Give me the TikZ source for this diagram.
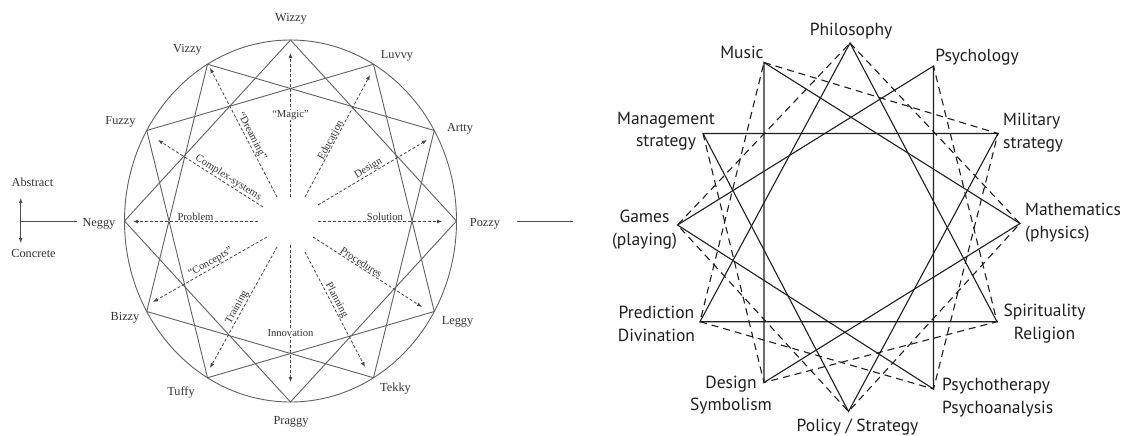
\documentclass[tikz,border=0pt]{standalone}
\usepackage{fontspec}
\setmainfont{Liberation Serif}
\newfontfamily\fieldfont{PT Sans}
\usetikzlibrary{arrows.meta}
\begin{document}
\begin{tikzpicture}[x=1pt,y=-1pt,
  ring/.style={draw=black!62, line width=0.9pt},
  starline/.style={draw=black!62, line width=0.9pt},
  ray/.style={draw=black!72, line width=0.8pt, dash pattern=on 3pt off 2pt,
    -{Latex[length=5pt,width=4pt]}},
  raylabel/.style={font=\fontsize{10.6}{12}\selectfont, text=black!80,
    inner sep=0.6pt, sloped, above},
  flatlabel/.style={font=\fontsize{10.6}{12}\selectfont, text=black!80,
    inner sep=0.6pt, fill=white},
  vname/.style={font=\fontsize{12.3}{14}\selectfont, text=black!80,
    inner sep=0pt, anchor=base},
  axisline/.style={draw=black!70, line width=0.9pt},
  solidedge/.style={draw=black!88, line width=1.1pt},
  dashedge/.style={draw=black!88, line width=1.1pt, dash pattern=on 7pt off 5pt},
  field/.style={font=\fieldfont\fontsize{17.5}{22.7}\selectfont,
    inner sep=0pt, text=black!88},
]
\useasboundingbox (0,0) rectangle (1127,436);
\fill[white] (0,0) rectangle (1127,436);

% ---------------- left: the twelve-type wheel ----------------
\begin{scope}[shift={(290.5,221)}]
  \coordinate (hub) at (0,0);
  \foreach \n/\a in {wizzy/90, luvvy/60, artty/30, pozzy/0, leggy/-30,
      tekky/-60, praggy/-90, tuffy/-120, bizzy/-150, neggy/180,
      fuzzy/150, vizzy/120}
    \coordinate (\n) at (\a:166pt and 181pt);
  \draw[ring] (hub) ellipse [x radius=166pt, y radius=181pt];
\end{scope}

% three inscribed squares
\draw[starline] (wizzy) -- (pozzy) -- (praggy) -- (neggy) -- cycle;
\draw[starline] (luvvy) -- (leggy) -- (tuffy) -- (fuzzy) -- cycle;
\draw[starline] (artty) -- (tekky) -- (bizzy) -- (vizzy) -- cycle;

% radial dashed arrows
\coordinate (r1a) at (290.5,197);  \coordinate (r1b) at (290.5,53);
\coordinate (r2a) at (305,197);    \coordinate (r2b) at (370,75);
\coordinate (r3a) at (318,205);    \coordinate (r3b) at (427,140);
\coordinate (r4a) at (318,221.5);  \coordinate (r4b) at (442,221.5);
\coordinate (r5a) at (313,237);    \coordinate (r5b) at (422,307);
\coordinate (r6a) at (305,252);    \coordinate (r6b) at (365,367);
\coordinate (r7a) at (290.5,245);  \coordinate (r7b) at (290.5,382);
\coordinate (r8a) at (277,247);    \coordinate (r8b) at (210,368);
\coordinate (r9a) at (267,237);    \coordinate (r9b) at (153,302);
\coordinate (r10a) at (258,221.5); \coordinate (r10b) at (133,221.5);
\coordinate (r11a) at (263,207);   \coordinate (r11b) at (158,140);
\coordinate (r12a) at (277,197);   \coordinate (r12b) at (210,68);

\draw[ray] (r1a) -- node[flatlabel, pos=0.57] (lmagic) {“Magic”} (r1b);
\draw[ray] (r2a) -- node[raylabel, pos=0.45] (leduc) {Education} (r2b);
\draw[ray] (r3a) -- node[raylabel, pos=0.49] (ldesign) {Design} (r3b);
\draw[ray] (r4a) -- node[raylabel, pos=0.54] (lsol) {Solution} (r4b);
\draw[ray] (r5a) -- node[raylabel, pos=0.42] (lproc) {Procedures} (r5b);
\draw[ray] (r6a) -- node[raylabel, pos=0.44] (lplan) {Planning} (r6b);
\draw[ray] (r7a) -- node[flatlabel, pos=0.64] (linnov) {Innovation} (r7b);
\draw[ray] (r8a) -- node[raylabel, pos=0.52] (ltrain) {Training} (r8b);
\draw[ray] (r9a) -- node[raylabel, pos=0.47] (lconc) {“Concepts”} (r9b);
\draw[ray] (r10a) -- node[raylabel, pos=0.50] (lprob) {Problem} (r10b);
\draw[ray] (r11a) -- node[raylabel, pos=0.36] (lcomp) {Complex-systems} (r11b);
\draw[ray] (r12a) -- node[raylabel, pos=0.45] (ldream) {“Dreaming”} (r12b);

% type names
\node[vname] (twizzy)  at (291,22)    {Wizzy};
\node[vname] (tvizzy)  at (187.5,53)  {Vizzy};
\node[vname] (tluvvy)  at (397,59)    {Luvvy};
\node[vname] (tfuzzy)  at (120.5,124) {Fuzzy};
\node[vname] (tartty)  at (460,131)   {Artty};
\node[vname] (tneggy)  at (99,226)    {Neggy};
\node[vname] (tpozzy)  at (485,226)   {Pozzy};
\node[vname] (tbizzy)  at (125,320)   {Bizzy};
\node[vname] (tleggy)  at (457.5,324) {Leggy};
\node[vname] (ttuffy)  at (181,395)   {Tuffy};
\node[vname] (ttekky)  at (395.5,391) {Tekky};
\node[vname] (tpraggy) at (291,424)   {Praggy};

% abstract / concrete axis
\coordinate (axtop) at (20.7,198);
\coordinate (axbot) at (20.7,243);
\coordinate (axmid) at (20.7,221.5);
\coordinate (axend) at (77,221.5);
\draw[axisline, {Latex[length=5pt,width=4pt]}-{Latex[length=5pt,width=4pt]}] (axtop) -- (axbot);
\draw[axisline] (axmid) -- (axend);
\node[vname] (tabs) at (32.5,186) {Abstract};
\node[vname] (tcon) at (33.5,257) {Concrete};

% trailing rule beside Pozzy
\coordinate (taila) at (517,221.5);
\coordinate (tailb) at (573,221.5);
\draw[axisline] (taila) -- (tailb);

% ---------------- right: twelve fields ----------------
\coordinate (philosophy)    at (850,43);
\coordinate (music)         at (764,62.5);
\coordinate (psychology)    at (933.5,66);
\coordinate (management)    at (703,133.5);
\coordinate (military)      at (998,133.5);
\coordinate (games)         at (677.5,225);
\coordinate (mathematics)   at (1020,223.5);
\coordinate (prediction)    at (700,321.7);
\coordinate (spirituality)  at (997,321.7);
\coordinate (design)        at (764,382.5);
\coordinate (psychotherapy) at (933.5,389);
\coordinate (policy)        at (848.5,411.5);

% four solid triangles
\draw[solidedge, line join=miter] (philosophy) -- (prediction) -- (spirituality) -- cycle;
\draw[solidedge, line join=miter] (music) -- (design) -- (mathematics) -- cycle;
\draw[solidedge, line join=miter] (management) -- (policy) -- (military) -- cycle;
\draw[solidedge, line join=miter] (games) -- (psychotherapy) -- (psychology) -- cycle;

% dashed squares
\draw[dashedge] (music) -- (military) -- (psychotherapy) -- (prediction) -- cycle;
\draw[dashedge] (philosophy) -- (mathematics) -- (policy) -- (games) -- cycle;
\draw[dashedge] (management) -- (design) -- (spirituality) -- (psychology);

% field names
\node[field, anchor=base] (nphil) at (851,36) {Philosophy};
\node[field, anchor=base] (nmusic) at (742,59) {Music};
\node[field, anchor=base] (npsych) at (977,61.5) {Psychology};
\node[field, anchor=base, align=center] (nmgmt) at (666,146.7) {Management\\strategy};
\node[field, anchor=base west, align=left] (nmil) at (1003,148.3) {Military\\strategy};
\node[field, anchor=base, align=center] (ngames) at (644.5,245) {Games\\(playing)};
\node[field, anchor=base west, align=left] (nmath) at (1025,238.3) {Mathematics\\(physics)};
\node[field, anchor=base, align=center] (npred) at (656.5,341) {Prediction\\Divination};
\node[field, anchor=base, align=center] (nspir) at (1044.5,339) {Spirituality\\Religion};
\node[field, anchor=base, align=center] (ndesign) at (731,410.7) {Design\\Symbolism};
\node[field, anchor=base west, align=left] (ntherapy) at (942,413.3) {Psychotherapy\\Psychoanalysis};
\node[field, anchor=base] (npolicy) at (857.5,431.7) {Policy / Strategy};
\end{tikzpicture}
\end{document}
